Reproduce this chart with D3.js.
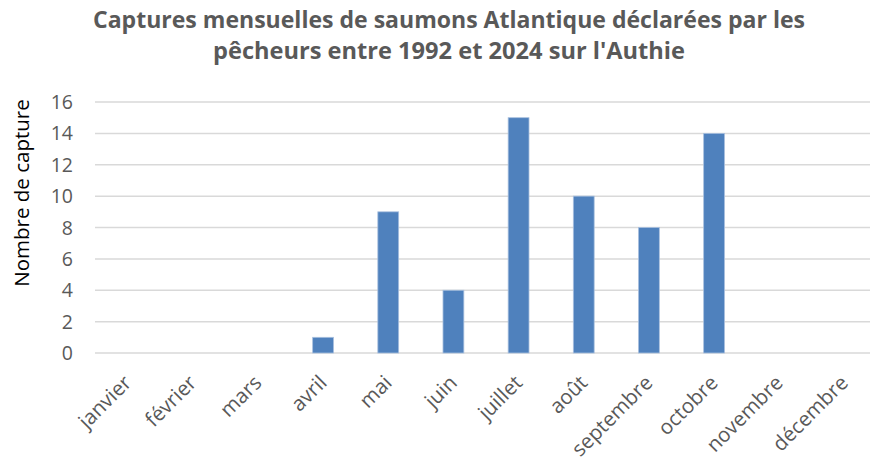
<!DOCTYPE html>
<html>
<head>
<meta charset="utf-8">
<script src="https://cdn.jsdelivr.net/npm/d3@7"></script>
<style>
  body { margin: 0; background: #fff; }
  svg text { font-family: "Open Sans", "Liberation Sans", sans-serif; }
</style>
</head>
<body>
<div class="chart"></div>
<script>
var months = ["janvier", "février", "mars", "avril", "mai", "juin", "juillet", "août", "septembre", "octobre", "novembre", "décembre"];
var captures = [0, 0, 0, 1, 9, 4, 15, 10, 8, 14, 0, 0];
var yTicks = [0, 2, 4, 6, 8, 10, 12, 14, 16];
var titleLines = ["Captures mensuelles de saumons Atlantique déclarées par les", "pêcheurs entre 1992 et 2024 sur l'Authie"];

var svgWidth = 870;
var svgHeight = 461;

var svg = d3.select(".chart")
    .append("svg")
    .attr("width", svgWidth)
    .attr("height", svgHeight);

var x = d3.scaleBand()
    .domain(months)
    .range([95, 877])
    .paddingInner(0.68)
    .paddingOuter(0.34);

var y = d3.scaleLinear()
    .domain([0, 16])
    .range([353, 102]);

// gridlines
svg.append("g")
    .selectAll("line")
    .data(yTicks)
    .enter()
    .append("line")
    .attr("x1", 95)
    .attr("x2", 877)
    .attr("y1", d => y(d))
    .attr("y2", d => y(d))
    .attr("stroke", "#d9d9d9")
    .attr("stroke-width", 1.5);

// y tick labels
svg.append("g")
    .selectAll("text")
    .data(yTicks)
    .enter()
    .append("text")
    .attr("x", 73)
    .attr("y", d => y(d))
    .attr("dy", "0.36em")
    .attr("text-anchor", "end")
    .attr("font-size", "19.5px")
    .attr("fill", "#595959")
    .text(d => d);

// bars
svg.append("g")
    .selectAll("rect")
    .data(months.map((m, i) => ({ month: m, value: captures[i] })).filter(d => d.value > 0))
    .enter()
    .append("rect")
    .attr("x", d => x(d.month))
    .attr("y", d => y(d.value))
    .attr("width", x.bandwidth())
    .attr("height", d => y(0) - y(d.value))
    .attr("fill", "#4f81bd")
    .attr("stroke", "#a9c0df")
    .attr("stroke-width", 0.8);

// x labels
svg.append("g")
    .selectAll("text")
    .data(months)
    .enter()
    .append("text")
    .attr("transform", d => `translate(${x(d) + x.bandwidth() / 2 + 5}, 384) rotate(-45)`)
    .attr("text-anchor", "end")
    .attr("font-size", "20.5px")
    .attr("fill", "#595959")
    .text(d => d);

// y axis title
svg.append("text")
    .attr("transform", "translate(29, 193) rotate(-90)")
    .attr("text-anchor", "middle")
    .attr("font-size", "20.5px")
    .attr("fill", "#000")
    .text("Nombre de capture");

// title, squeezed to the original line widths
var titleWidths = [712, 472];
titleLines.forEach(function(line, i) {
    svg.append("text")
        .attr("x", 449)
        .attr("y", 28 + i * 31)
        .attr("text-anchor", "middle")
        .attr("font-size", "23px")
        .attr("font-weight", "bold")
        .attr("fill", "#595959")
        .attr("textLength", titleWidths[i])
        .attr("lengthAdjust", "spacingAndGlyphs")
        .text(line);
});
</script>
</body>
</html>
